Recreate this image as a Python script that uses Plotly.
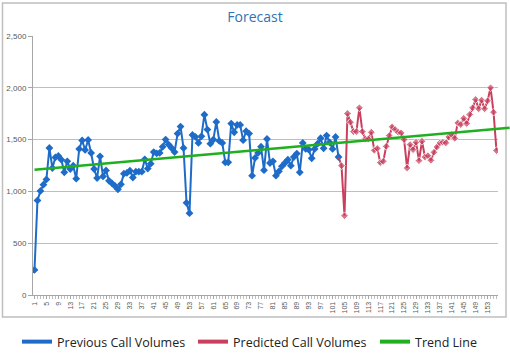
import plotly.graph_objects as go

# ---- data ----
prev_x = list(range(1, 104))
prev_vals = [242, 913, 1005, 1065, 1116, 1419, 1226, 1328, 1342, 1306,
             1184, 1290, 1216, 1248, 1123, 1410, 1492, 1400, 1497, 1371,
             1216, 1129, 1339, 1145, 1202, 1102, 1078, 1052, 1020, 1068,
             1171, 1178, 1200, 1134, 1190, 1190, 1190, 1310, 1220, 1268,
             1380, 1368, 1371, 1430, 1500, 1452, 1419, 1380, 1558, 1626,
             1419, 890, 790, 1545, 1526, 1468, 1532, 1740, 1597, 1461,
             1500, 1671, 1487, 1468, 1281, 1281, 1655, 1571, 1642, 1642,
             1494, 1581, 1558, 1152, 1323, 1371, 1432, 1205, 1506, 1274,
             1290, 1152, 1194, 1242, 1274, 1306, 1248, 1332, 1365, 1184,
             1468, 1410, 1403, 1319, 1410, 1461, 1513, 1416, 1539, 1474,
             1410, 1526, 1332]

pred_x = list(range(104, 157))
pred_vals = [1248, 765, 1752, 1668, 1577, 1577, 1807, 1577, 1506, 1506,
             1571, 1397, 1415, 1278, 1290, 1435, 1539, 1623, 1597, 1571,
             1565, 1500, 1226, 1452, 1403, 1474, 1297, 1484, 1332, 1345,
             1300, 1377, 1429, 1468, 1474, 1468, 1526, 1548, 1513, 1661,
             1645, 1706, 1655, 1742, 1807, 1887, 1797, 1881, 1797, 1874,
             2000, 1765, 1394]

trend_x = [1, 160.4]
trend_vals = [1210, 1614]

series_names = ["Previous Call Volumes", "Predicted Call Volumes", "Trend Line"]
title_text = "Forecast"
y_ticks = [0, 500, 1000, 1500, 2000, 2500]

# ---- styling ----
BLUE = "#1E6CC8"
RED = "#C8405E"
GREEN = "#1FAF1F"
GRID = "#BFBFBF"
TXT = "#595959"

W, H = 510, 360
ML, MR, MT, MB = 33, 0, 36, 65
plot_w = W - ML - MR
plot_h = H - MT - MB
main_w = 465
n_cat = len(prev_vals) + len(pred_vals)
px_per_cat = main_w / n_cat
x2_max = 0.5 + plot_w / px_per_cat


def px(xs):
    return (xs - ML) / plot_w


def py(ys):
    return (H - MB - ys) / plot_h


fig = go.Figure()

# predicted series joins the last observed point
red_x = [prev_x[-1]] + pred_x
red_y = [prev_vals[-1]] + pred_vals
red_sizes = [0] + [6] * len(pred_x)

fig.add_trace(go.Scatter(x=prev_x, y=prev_vals, mode="lines+markers",
                         line=dict(color=BLUE, width=2),
                         marker=dict(symbol="diamond", size=6, color=BLUE),
                         showlegend=False, xaxis="x", yaxis="y"))
fig.add_trace(go.Scatter(x=red_x, y=red_y, mode="lines+markers",
                         line=dict(color=RED, width=2),
                         marker=dict(symbol="diamond", size=red_sizes, color=RED),
                         showlegend=False, xaxis="x", yaxis="y"))
fig.add_trace(go.Scatter(x=trend_x, y=trend_vals, mode="lines",
                         line=dict(color=GREEN, width=2.5),
                         showlegend=False, xaxis="x2", yaxis="y2"))

# legend entries, one legend box each
legend_ids = ["legend", "legend2", "legend3"]
for name, col, lg in zip(series_names, [BLUE, RED, GREEN], legend_ids):
    fig.add_trace(go.Scatter(x=[None], y=[None], mode="lines", name=name,
                             line=dict(color=col, width=4), legend=lg,
                             xaxis="x", yaxis="y"))

legend_style = dict(orientation="h", xanchor="left", y=py(342), yanchor="middle",
                    font=dict(family="Open Sans", size=12.5, color="#222222"),
                    itemwidth=30, bgcolor="rgba(0,0,0,0)")

fig.update_layout(
    width=W, height=H,
    margin=dict(l=ML, r=MR, t=MT, b=MB, autoexpand=False),
    paper_bgcolor="white",
    plot_bgcolor="rgba(0,0,0,0)",
    title=dict(text=title_text, x=px(255), xref="paper", xanchor="center",
               y=1 - 17 / H, yanchor="middle",
               font=dict(family="Open Sans", size=14, color="#2E74B5")),
    xaxis=dict(domain=[0, main_w / plot_w], range=[0.5, n_cat + 0.5],
               tickmode="linear", tick0=1, dtick=4, tickangle=-90,
               ticks="outside", ticklen=3, tickcolor="#A6A6A6",
               minor=dict(dtick=1, tick0=1, ticks="outside", ticklen=3, tickcolor="#BFBFBF"),
               showline=True, linecolor="#A6A6A6", linewidth=1,
               showgrid=False, zeroline=False, automargin=False,
               tickfont=dict(family="Liberation Sans", size=7, color=TXT)),
    yaxis=dict(range=[0, 2500], tickvals=y_ticks, tickformat=",",
               ticks="outside", ticklen=4, tickcolor="#A6A6A6",
               showline=True, linecolor="#A6A6A6", linewidth=1,
               showgrid=True, gridcolor=GRID, gridwidth=1,
               zeroline=False, automargin=False,
               tickfont=dict(family="Liberation Sans", size=8, color=TXT)),
    xaxis2=dict(domain=[0, 1], range=[0.5, x2_max], anchor="y2", visible=False),
    yaxis2=dict(domain=[0, 1], range=[0, 2500], anchor="x2", visible=False),
    showlegend=True,
    legend=dict(x=px(17), **legend_style),
    legend2=dict(x=px(193), **legend_style),
    legend3=dict(x=px(375), **legend_style),
    shapes=[dict(type="rect", xref="paper", yref="paper",
                 x0=px(2.5), x1=px(506), y0=py(317), y1=py(3),
                 line=dict(color="#BFBFBF", width=1.5), layer="below")],
)

fig.write_html("out.html", config={"displayModeBar": False},
               post_script="document.body.style.margin='0';document.body.style.overflow='hidden';")
